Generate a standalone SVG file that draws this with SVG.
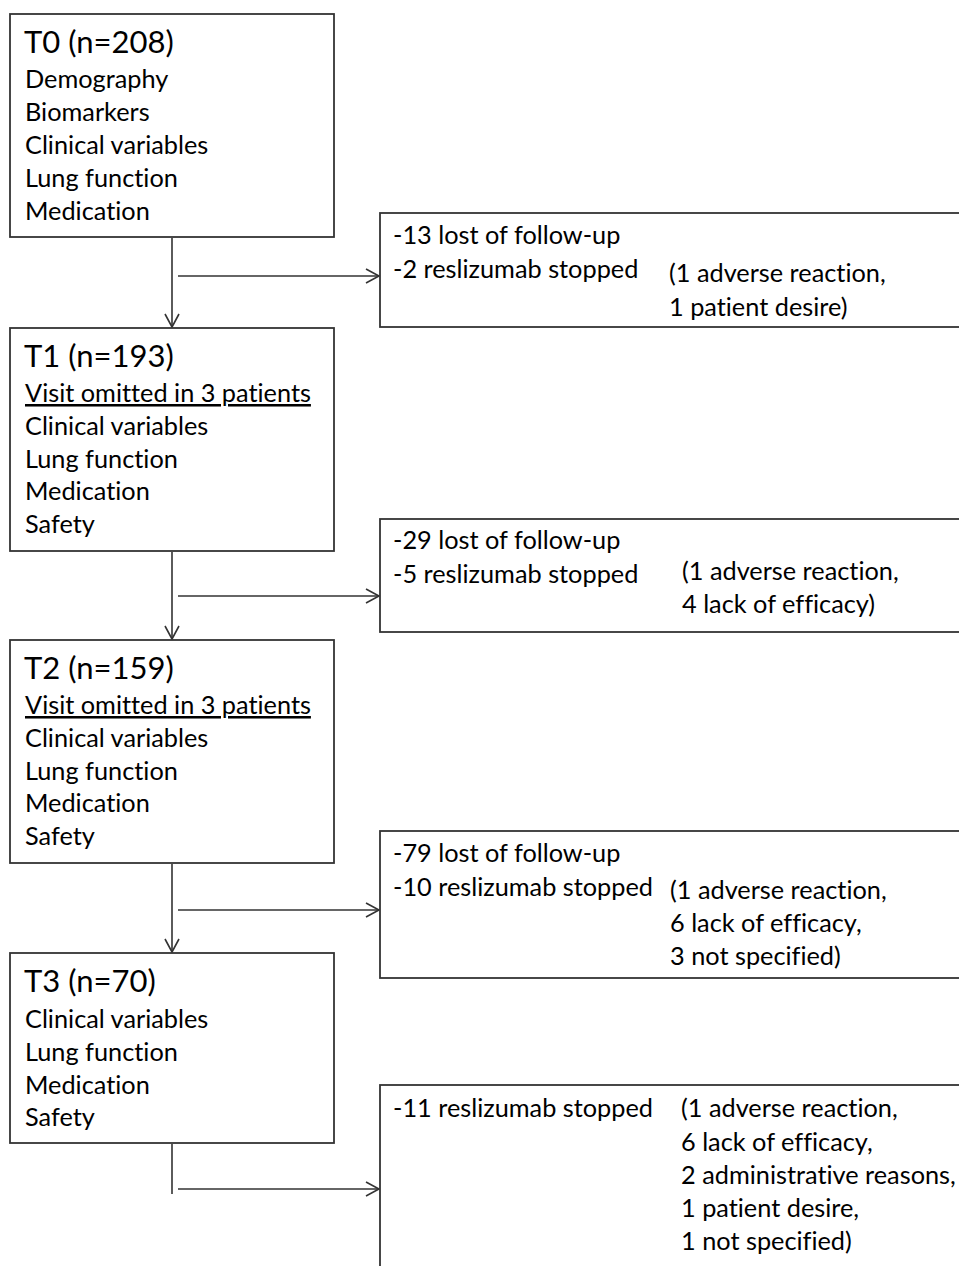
<svg xmlns="http://www.w3.org/2000/svg" width="959" height="1266" viewBox="0 0 959 1266">
<defs>
<marker id="arr" markerWidth="18" markerHeight="18" refX="14" refY="8" orient="auto" markerUnits="userSpaceOnUse">
<path d="M1,1 L14,8 L1,15" fill="none" stroke="#333" stroke-width="1.6"/>
</marker>
<style>
.box{fill:#fff;stroke:#333;stroke-width:1.8}
.t{font-family:Lato,"Liberation Sans",sans-serif;font-size:25.3px;fill:#000;font-variant-ligatures:none}
.h{font-family:Lato,"Liberation Sans",sans-serif;font-size:31px;fill:#000;font-variant-ligatures:none}
.u{text-decoration:underline}
.ln{stroke:#333;stroke-width:1.6;fill:none}
</style>
</defs>
<rect width="959" height="1266" fill="#fff"/>
<g id="connectors">
<line class="ln" x1="172" y1="238" x2="172" y2="327" marker-end="url(#arr)"/>
<line class="ln" x1="178" y1="276" x2="379" y2="276" marker-end="url(#arr)"/>
<line class="ln" x1="172" y1="552" x2="172" y2="639" marker-end="url(#arr)"/>
<line class="ln" x1="178" y1="596" x2="379" y2="596" marker-end="url(#arr)"/>
<line class="ln" x1="172" y1="864" x2="172" y2="952" marker-end="url(#arr)"/>
<line class="ln" x1="178" y1="910" x2="379" y2="910" marker-end="url(#arr)"/>
<line class="ln" x1="172" y1="1144" x2="172" y2="1194"/>
<line class="ln" x1="178" y1="1189" x2="379" y2="1189" marker-end="url(#arr)"/>
</g>
<g id="T0">
<rect class="box" x="10" y="14" width="324" height="223"/>
<text class="h" x="24" y="53">T0 (n=208)</text>
<text class="t" x="25" y="88">Demography</text>
<text class="t" x="25" y="121">Biomarkers</text>
<text class="t" x="25" y="154">Clinical variables</text>
<text class="t" x="25" y="187">Lung function</text>
<text class="t" x="25" y="220">Medication</text>
</g>
<g id="T1">
<rect class="box" x="10" y="328" width="324" height="223"/>
<text class="h" x="24" y="367">T1 (n=193)</text>
<text class="t u" x="25" y="402">Visit omitted in 3 patients</text>
<text class="t" x="25" y="435">Clinical variables</text>
<text class="t" x="25" y="468">Lung function</text>
<text class="t" x="25" y="500">Medication</text>
<text class="t" x="25" y="533">Safety</text>
</g>
<g id="T2">
<rect class="box" x="10" y="640" width="324" height="223"/>
<text class="h" x="24" y="679">T2 (n=159)</text>
<text class="t u" x="25" y="714">Visit omitted in 3 patients</text>
<text class="t" x="25" y="747">Clinical variables</text>
<text class="t" x="25" y="780">Lung function</text>
<text class="t" x="25" y="812">Medication</text>
<text class="t" x="25" y="845">Safety</text>
</g>
<g id="T3">
<rect class="box" x="10" y="953" width="324" height="190"/>
<text class="h" x="24" y="992">T3 (n=70)</text>
<text class="t" x="25" y="1028">Clinical variables</text>
<text class="t" x="25" y="1061">Lung function</text>
<text class="t" x="25" y="1094">Medication</text>
<text class="t" x="25" y="1126">Safety</text>
</g>
<g id="D1">
<rect class="box" x="380" y="213" width="600" height="114"/>
<text class="t" x="393" y="244">-13 lost of follow-up</text>
<text class="t" x="393" y="278">-2 reslizumab stopped</text>
<text class="t" x="669" y="282">(1 adverse reaction,</text>
<text class="t" x="669" y="316">1 patient desire)</text>
</g>
<g id="D2">
<rect class="box" x="380" y="519" width="600" height="113"/>
<text class="t" x="393" y="549">-29 lost of follow-up</text>
<text class="t" x="393" y="583">-5 reslizumab stopped</text>
<text class="t" x="682" y="580">(1 adverse reaction,</text>
<text class="t" x="682" y="613">4 lack of efficacy)</text>
</g>
<g id="D3">
<rect class="box" x="380" y="831" width="600" height="147"/>
<text class="t" x="393" y="862">-79 lost of follow-up</text>
<text class="t" x="393" y="896">-10 reslizumab stopped</text>
<text class="t" x="670" y="899">(1 adverse reaction,</text>
<text class="t" x="670" y="932">6 lack of efficacy,</text>
<text class="t" x="670" y="965">3 not specified)</text>
</g>
<g id="D4">
<rect class="box" x="380" y="1085" width="600" height="220"/>
<text class="t" x="393" y="1117">-11 reslizumab stopped</text>
<text class="t" x="681" y="1117">(1 adverse reaction,</text>
<text class="t" x="681" y="1151">6 lack of efficacy,</text>
<text class="t" x="681" y="1184">2 administrative reasons,</text>
<text class="t" x="681" y="1217">1 patient desire,</text>
<text class="t" x="681" y="1250">1 not specified)</text>
</g>
</svg>
